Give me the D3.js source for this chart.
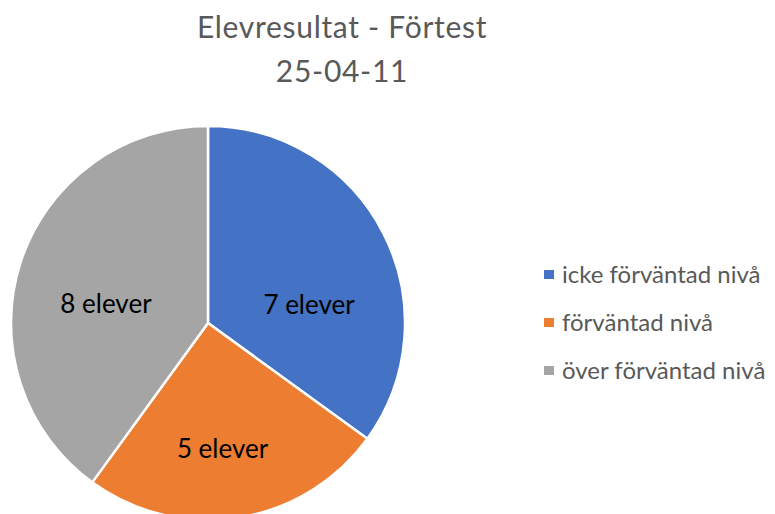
<!DOCTYPE html>
<html>
<head>
<meta charset="utf-8">
<script src="https://cdn.jsdelivr.net/npm/d3@7"></script>
<style>
  body { margin: 0; background: white; }
  text { font-family: Lato, "Open Sans", sans-serif; }
</style>
</head>
<body>
<div id="chart"></div>
<script>
var categories = ["icke förväntad nivå", "förväntad nivå", "över förväntad nivå"];
var values = [7, 5, 8];
var labels = ["7 elever", "5 elever", "8 elever"];
var colours = ["#4472C4", "#ED7D31", "#A5A5A5"];
var titleLines = ["Elevresultat - Förtest", "25-04-11"];

var width = 775;
var height = 514;
var cx = 208;
var cy = 323;
var radius = 197;

// where each data label sits inside its slice (share of the slice angle, share of the radius)
var labelSpot = [[0.634, 0.521], [0.527, 0.644], [0.449, 0.527]];

var svg = d3.select("#chart")
    .append("svg")
    .attr("width", width)
    .attr("height", height);

// title
svg.append("g")
    .attr("id", "title")
    .selectAll("text")
    .data(titleLines)
    .enter()
    .append("text")
    .attr("x", 342)
    .attr("y", function(d, i) { return 38 + i * 44; })
    .attr("text-anchor", "middle")
    .attr("font-size", 30)
    .attr("letter-spacing", 0.7)
    .attr("fill", "#595959")
    .text(function(d) { return d; });

var pie = d3.pie().sort(null).value(function(d) { return d; });
var arcs = pie(values);

var arc = d3.arc().innerRadius(0).outerRadius(radius);

var g = svg.append("g")
    .attr("transform", "translate(" + cx + "," + cy + ")");

g.selectAll("path")
    .data(arcs)
    .enter()
    .append("path")
    .attr("d", arc)
    .style("fill", function(d, i) { return colours[i]; })
    .style("stroke", "white")
    .style("stroke-width", 2.5);

g.selectAll("text")
    .data(arcs)
    .enter()
    .append("text")
    .attr("transform", function(d, i) {
        var a = d.startAngle + (d.endAngle - d.startAngle) * labelSpot[i][0];
        var r = radius * labelSpot[i][1];
        return "translate(" + (Math.sin(a) * r) + "," + (-Math.cos(a) * r) + ")";
    })
    .attr("dy", "0.35em")
    .attr("text-anchor", "middle")
    .attr("font-size", 26)
    .attr("fill", "black")
    .text(function(d, i) { return labels[i]; });

// legend
var legend = svg.append("g")
    .attr("id", "legend")
    .selectAll("g")
    .data(categories)
    .enter()
    .append("g")
    .attr("transform", function(d, i) { return "translate(544," + (274.5 + i * 48) + ")"; });

legend.append("rect")
    .attr("x", 0)
    .attr("y", -4.5)
    .attr("width", 10)
    .attr("height", 9)
    .style("fill", function(d, i) { return colours[i]; });

legend.append("text")
    .attr("x", 18)
    .attr("dy", "0.35em")
    .attr("font-size", 24)
    .attr("fill", "#595959")
    .text(function(d) { return d; });
</script>
</body>
</html>
